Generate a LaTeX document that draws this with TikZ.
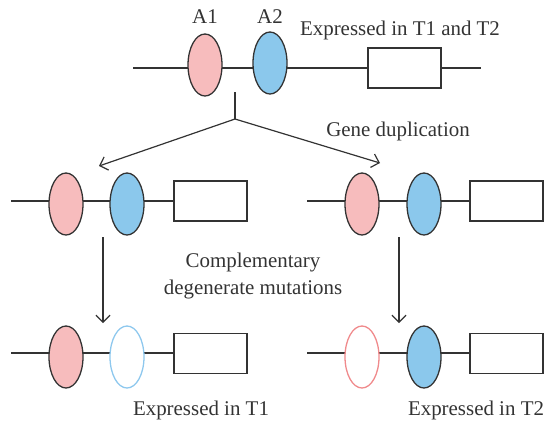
\documentclass[tikz,border=0pt]{standalone}
\usepackage{fontspec}
\setmainfont{Liberation Serif}
\usetikzlibrary{shapes.geometric,arrows.meta}
\definecolor{ink}{HTML}{333333}
\definecolor{pinkfill}{HTML}{F7BCBD}
\definecolor{bluefill}{HTML}{8BC8EC}
\definecolor{pinkline}{HTML}{F08A8C}
\definecolor{blueline}{HTML}{8EC8EE}
\tikzset{
  axis/.style={draw=ink,line width=1.3bp},
  gene/.style={ellipse,minimum width=34bp,minimum height=62bp,inner sep=0pt,line width=1.3bp},
  pinkon/.style={gene,draw=ink,fill=pinkfill},
  blueon/.style={gene,draw=ink,fill=bluefill},
  pinkoff/.style={gene,draw=pinkline,fill=white},
  blueoff/.style={gene,draw=blueline,fill=white},
  codebox/.style={rectangle,draw=ink,fill=white,line width=1.3bp,minimum width=73bp,minimum height=40bp,inner sep=0pt},
  arr/.style={draw=ink,line width=1.2bp,-{Straight Barb[length=7bp,width=14bp,line width=1.2bp]}},
  lbl/.style={text=ink,font=\fontsize{21}{25}\selectfont,inner sep=0pt},
}
\begin{document}
\begin{tikzpicture}[x=1bp,y=-1bp]
\useasboundingbox (0,0) rectangle (546,423);

% ancestral gene
\coordinate (s0) at (133,68);
\coordinate (e0) at (481,68);
\draw[axis] (s0) -- (e0);
\node[pinkon] (p0) at (205,65) {};
\node[blueon] (b0) at (270,63) {};
\node[codebox] (c0) at (404.5,68) {};
\node[lbl] (l1) at (205,17) {A1};
\node[lbl] (l2) at (270,17) {A2};
\node[lbl] (t0) at (400,30) {Expressed in T1 and T2};

% duplication fork
\coordinate (stem) at (235,92);
\coordinate (fork) at (235,119);
\coordinate (tipL) at (99,166);
\coordinate (tipR) at (380,163);
\draw[axis] (stem) -- (fork);
\draw[arr] (fork) -- (tipL);
\draw[arr] (fork) -- (tipR);
\node[lbl] (gd) at (398,131) {Gene duplication};

% duplicated copies
\coordinate (sL) at (11,201);
\draw[axis] (sL) -- (174,201);
\node[pinkon] (pL) at (66,204) {};
\node[blueon] (bL) at (127,204) {};
\node[codebox] (cL) at (210.5,201) {};

\coordinate (sR) at (307,201);
\draw[axis] (sR) -- (471,201);
\node[pinkon] (pR) at (362,204) {};
\node[blueon] (bR) at (424,204) {};
\node[codebox] (cR) at (506.5,201) {};

% degenerate mutations
\coordinate (dL0) at (103,237);
\coordinate (dL1) at (103,323);
\coordinate (dR0) at (399,237);
\coordinate (dR1) at (399,323);
\draw[arr] (dL0) -- (dL1);
\draw[arr] (dR0) -- (dR1);
\node[lbl,align=center] (cm) at (253,276) {Complementary\\[3bp]degenerate mutations};

% subfunctionalized copies
\coordinate (sL2) at (11,353);
\draw[axis] (sL2) -- (174,353);
\node[pinkon] (pL2) at (66,357) {};
\node[blueoff] (bL2) at (127,357) {};
\node[codebox] (cL2) at (210.5,353.5) {};
\node[lbl] (tL) at (201,410) {Expressed in T1};

\coordinate (sR2) at (307,353);
\draw[axis] (sR2) -- (471,353);
\node[pinkoff] (pR2) at (362,357) {};
\node[blueon] (bR2) at (424,357) {};
\node[codebox] (cR2) at (506.5,353.5) {};
\node[lbl] (tR) at (476,410) {Expressed in T2};
\end{tikzpicture}
\end{document}
